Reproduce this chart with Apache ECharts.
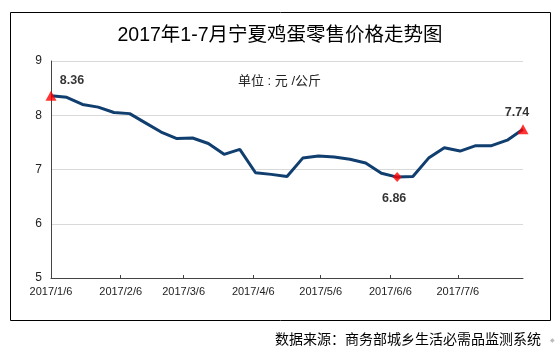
<!DOCTYPE html>
<html>
<head>
<meta charset="utf-8">
<script src="https://cdn.jsdelivr.net/npm/echarts@6/dist/echarts.min.js"></script>
<style>html,body{margin:0;padding:0;background:#fff;}#c{width:560px;height:354px;}</style>
</head>
<body>
<div id="c"></div>
<script>
var titleText = '2017年1-7月宁夏鸡蛋零售价格走势图';
var unitText = '单位 : 元 /公斤';
var sourceText = '数据来源：商务部城乡生活必需品监测系统';
var weekDates = ['2017/1/6','2017/1/13','2017/1/20','2017/1/27','2017/2/3','2017/2/10','2017/2/17','2017/2/24',
  '2017/3/3','2017/3/10','2017/3/17','2017/3/24','2017/3/31','2017/4/7','2017/4/14','2017/4/21','2017/4/28',
  '2017/5/5','2017/5/12','2017/5/19','2017/5/26','2017/6/2','2017/6/9','2017/6/16','2017/6/23','2017/6/30',
  '2017/7/7','2017/7/14','2017/7/21','2017/7/28','2017/8/4'];
var prices = [8.36,8.33,8.20,8.15,8.05,8.03,7.86,7.69,7.57,7.58,7.48,7.28,7.37,6.94,6.91,6.87,7.21,
  7.25,7.23,7.19,7.12,6.93,6.86,6.87,7.21,7.40,7.34,7.44,7.44,7.54,7.74];
var tickLabels = ['2017/1/6','2017/2/6','2017/3/6','2017/4/6','2017/5/6','2017/6/6','2017/7/6'];
var yTicks = [5,6,7,8,9];

// daily categories from first to last date
var days = [];
(function(){
  var p0 = weekDates[0].split('/'), p1 = weekDates[weekDates.length-1].split('/');
  var d = new Date(+p0[0], +p0[1]-1, +p0[2], 12);
  var end = new Date(+p1[0], +p1[1]-1, +p1[2], 12);
  while (d <= end) {
    days.push(d.getFullYear() + '/' + (d.getMonth()+1) + '/' + d.getDate());
    d.setDate(d.getDate()+1);
  }
})();

var lineData = weekDates.map(function(d,i){ return [d, prices[i]]; });
var minIdx = prices.indexOf(Math.min.apply(null, prices));
var lastIdx = prices.length - 1;

var FONT = '"Liberation Sans", Arial, "Noto Sans CJK SC", sans-serif';
var chart = echarts.init(document.getElementById('c'), null, {renderer:'canvas'});
chart.setOption({
  animation: false,
  backgroundColor: '#fff',
  textStyle: {fontFamily: FONT},
  title: [
    {text: titleText, left: 'center', top: 21, textStyle: {fontSize: 19.5, fontWeight: 'normal', color: '#000', fontFamily: FONT}},
    {text: unitText, left: 233, top: 70, textStyle: {fontSize: 13, fontWeight: 'normal', color: '#222', fontFamily: FONT}}
  ],
  graphic: [
    {type: 'rect', shape: {x: 10.5, y: 12.5, width: 540, height: 308}, style: {fill: 'none', stroke: '#000', lineWidth: 1}, z: -1},
    {type: 'text', right: 19, top: 332, style: {text: sourceText, fill: '#000', font: '14px "Noto Sans CJK SC", sans-serif'}},
    {type: 'text', left: 550, top: 337, style: {text: '◆', fill: '#bbb', font: '6px sans-serif'}}
  ],
  grid: {left: 51, right: 37, top: 61, bottom: 76, containLabel: false},
  xAxis: {
    type: 'category',
    data: days,
    boundaryGap: false,
    axisLine: {show: true, lineStyle: {color: '#444', width: 1}},
    axisTick: {show: true, inside: true, length: 3, lineStyle: {color: '#444'},
      interval: function(i, v){ return i > 0 && tickLabels.indexOf(v) >= 0; }},
    axisLabel: {interval: function(i, v){ return tickLabels.indexOf(v) >= 0; },
      fontSize: 11, color: '#222', margin: 8, fontFamily: FONT},
    splitLine: {show: false}
  },
  yAxis: {
    type: 'value', min: yTicks[0], max: yTicks[yTicks.length-1], interval: 1,
    axisLine: {show: true, lineStyle: {color: '#444', width: 1}},
    axisTick: {show: false},
    axisLabel: {fontSize: 12, color: '#222', margin: 9, fontFamily: FONT},
    splitLine: {show: true, lineStyle: {color: '#d9d9d9', width: 1}}
  },
  series: [
    {
      type: 'line', data: lineData, symbol: 'none', connectNulls: true,
      lineStyle: {color: '#0f3e6f', width: 3}, z: 2
    },
    {
      type: 'scatter', z: 3,
      data: [
        {value: lineData[0], symbol: 'triangle', symbolSize: [11, 10],
          label: {show: true, position: 'top', offset: [21, 1], formatter: prices[0].toFixed(2)}},
        {value: lineData[minIdx], symbol: 'diamond', symbolSize: [9, 10],
          label: {show: true, position: 'bottom', offset: [-3, 5], formatter: prices[minIdx].toFixed(2)}},
        {value: lineData[lastIdx], symbol: 'triangle', symbolSize: [11, 10],
          label: {show: true, position: 'top', offset: [-6, -1], formatter: prices[lastIdx].toFixed(2)}}
      ],
      itemStyle: {color: '#ff0000'},
      label: {fontSize: 12.5, fontWeight: 'bold', color: '#000', fontFamily: FONT}
    }
  ]
});
</script>
</body>
</html>
